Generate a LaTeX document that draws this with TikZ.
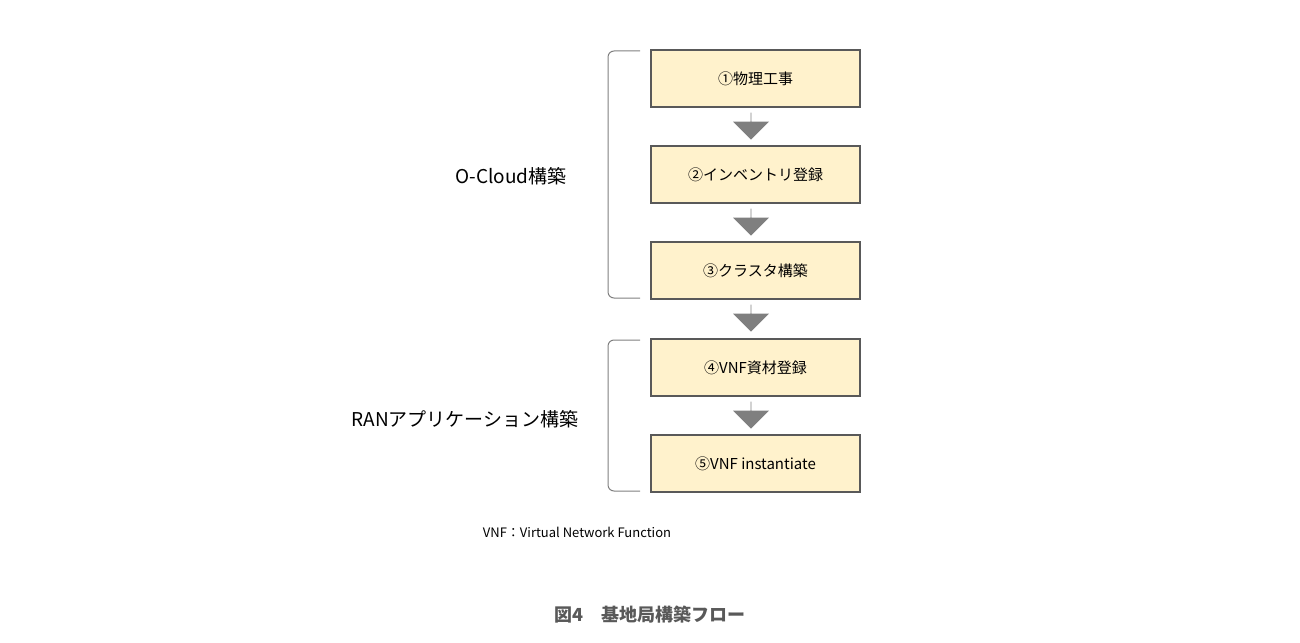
\documentclass[tikz,border=0pt]{standalone}
\usepackage{fontspec}
\setmainfont{Noto Sans CJK JP}
\usetikzlibrary{shapes.arrows}
\definecolor{boxfill}{HTML}{FFF2CC}
\definecolor{boxline}{HTML}{595959}
\definecolor{arr}{HTML}{7F7F7F}
\definecolor{brk}{HTML}{808080}
\begin{document}
\begin{tikzpicture}[x=1pt,y=-1pt,
  stepbox/.style={draw=boxline,line width=1.2pt,fill=boxfill,minimum width=209pt,minimum height=57pt,font=\fontsize{15}{18}\selectfont,inner sep=0},
  blockarrow/.style={single arrow,draw=none,fill=arr,shape border rotate=270,minimum height=27pt,minimum width=36pt,single arrow head extend=8pt,inner sep=0},
  lab/.style={font=\fontsize{19}{22}\selectfont,inner sep=0}]
\useasboundingbox (0,0) rectangle (1300,642);
\node[stepbox] (b1) at (755.5,78.5) {①物理工事};
\node[stepbox] (b2) at (755.5,174.5) {②インベントリ登録};
\node[stepbox] (b3) at (755.5,270.5) {③クラスタ構築};
\node[stepbox] (b4) at (755.5,367.5) {④VNF資材登録};
\node[stepbox] (b5) at (755.5,463.5) {⑤VNF instantiate};
\node[blockarrow] (a1) at (751,126) {};
\node[blockarrow] (a2) at (751,222) {};
\node[blockarrow] (a3) at (751,318) {};
\node[blockarrow] (a4) at (751,415) {};
\draw[brk,line width=1pt,rounded corners=6pt] (640,51) -- (608,51) -- (608,298) -- (640,298);
\draw[brk,line width=1pt,rounded corners=6pt] (640,340) -- (608,340) -- (608,491) -- (640,491);
\node[lab] (l1) at (511,176) {O-Cloud構築};
\node[lab] (l2) at (465,419) {RANアプリケーション構築};
\node[font=\fontsize{13}{15}\selectfont,inner sep=0] (fn) at (577,532) {VNF：Virtual Network Function};
\node[font=\fontsize{18}{21}\selectfont\bfseries,text=black!65,inner sep=0] (cap) at (650,615) {図4\hspace{1em}基地局構築フロー};
\end{tikzpicture}
\end{document}
